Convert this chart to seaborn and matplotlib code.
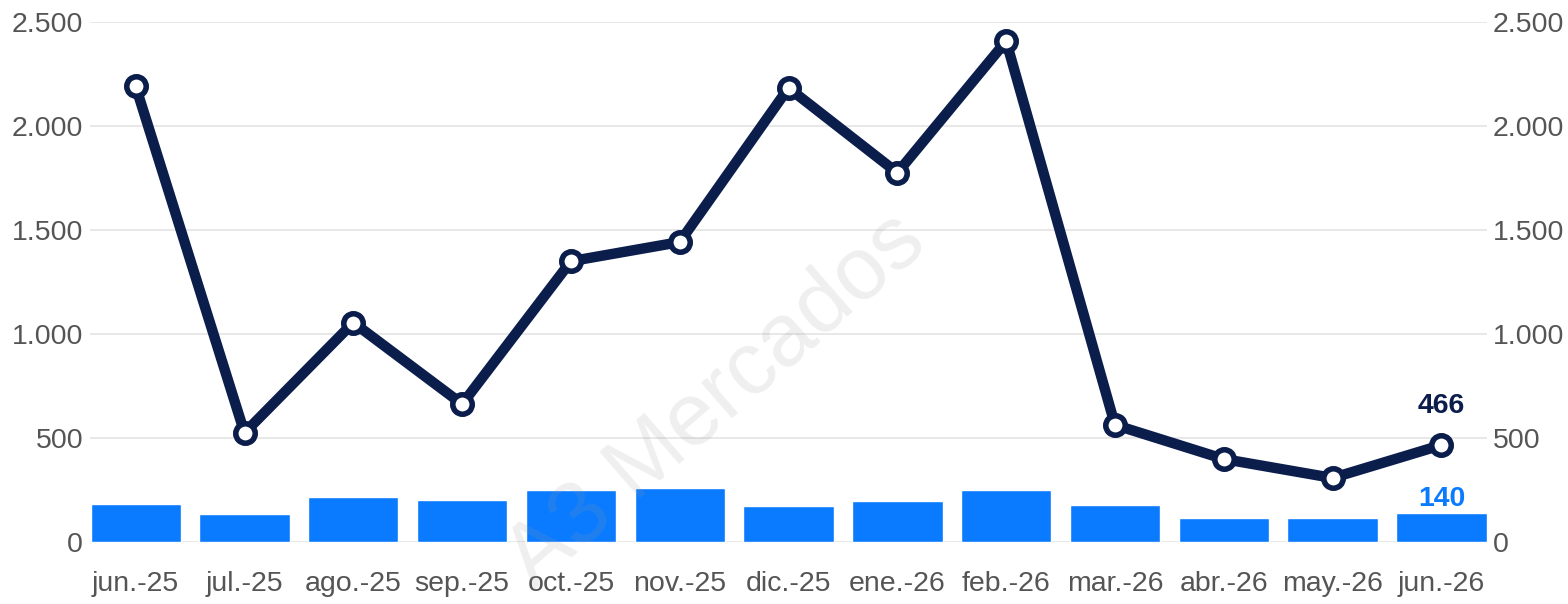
import numpy as np
import pandas as pd
import matplotlib
matplotlib.use("Agg")
import matplotlib.pyplot as plt
import seaborn as sns
from matplotlib.ticker import FuncFormatter

# ── datos ─────────────────────────────────────────────
meses = ["jun.-25", "jul.-25", "ago.-25", "sep.-25", "oct.-25", "nov.-25", "dic.-25",
         "ene.-26", "feb.-26", "mar.-26", "abr.-26", "may.-26", "jun.-26"]
linea = [2190, 525, 1055, 663, 1350, 1442, 2183, 1775, 2408, 563, 399, 308, 466]
barras = [183, 135, 218, 200, 248, 261, 173, 195, 251, 176, 114, 116, 140]

NAVY = "#0b1d4b"
AZUL = "#0a7bff"
GRIS = "#555555"

df = pd.DataFrame({"mes": meses, "linea": linea, "barras": barras})

sns.set_style("white")
plt.rcParams["font.family"] = ["Liberation Sans", "DejaVu Sans"]

fig = plt.figure(figsize=(15.68, 6.04), dpi=100)
ax = fig.add_axes([0.0574, 0.1026, 0.891, 0.861])

sns.barplot(data=df, x="mes", y="barras", color=AZUL, saturation=1, width=0.83,
            ax=ax, zorder=2)
sns.pointplot(data=df, x="mes", y="linea", color=NAVY, markers="o", errorbar=None,
              linewidth=7.5, markersize=14, markeredgewidth=4,
              markerfacecolor="white", markeredgecolor=NAVY, ax=ax, zorder=3)

n = len(meses)
ax.set_xlim(-0.42, n - 1 + 0.42)
ax.set_ylim(0, 2500)
ax.set_yticks([0, 500, 1000, 1500, 2000, 2500])
fmt = FuncFormatter(lambda v, p: f"{int(v):,}".replace(",", "."))
ax.yaxis.set_major_formatter(fmt)
ax.grid(axis="y", color="#e4e4e4", lw=1.2, zorder=0)
ax.set_axisbelow(True)
ax.set_xlabel("")
ax.set_ylabel("")
ax.tick_params(axis="both", length=0, labelsize=20.5, colors=GRIS)
ax.tick_params(axis="y", pad=5)
ax.tick_params(axis="x", pad=21)
for s in ax.spines.values():
    s.set_visible(False)

ax2 = ax.twinx()
ax2.set_ylim(ax.get_ylim())
ax2.set_yticks([0, 500, 1000, 1500, 2000, 2500])
ax2.yaxis.set_major_formatter(fmt)
ax2.tick_params(axis="y", length=0, labelsize=20.5, colors=GRIS, pad=4)
for s in ax2.spines.values():
    s.set_visible(False)

# etiquetas del último valor
ax.annotate(f"{linea[-1]}", (n - 1, linea[-1]), xytext=(0, 19), textcoords="offset points",
            ha="center", va="bottom", fontsize=20.5, fontweight="bold", color=NAVY, zorder=5)
ax.annotate(f"{barras[-1]}", (n - 1, barras[-1]), xytext=(0, 1), textcoords="offset points",
            ha="center", va="bottom", fontsize=20.5, fontweight="bold", color=AZUL, zorder=5)

# marca de agua
fig.text(0.457, 0.335, "A3 Mercados", rotation=41, fontsize=64, color="#9a9a9a",
         alpha=0.16, ha="center", va="center", zorder=10)

fig.savefig("out.png", dpi=100)
